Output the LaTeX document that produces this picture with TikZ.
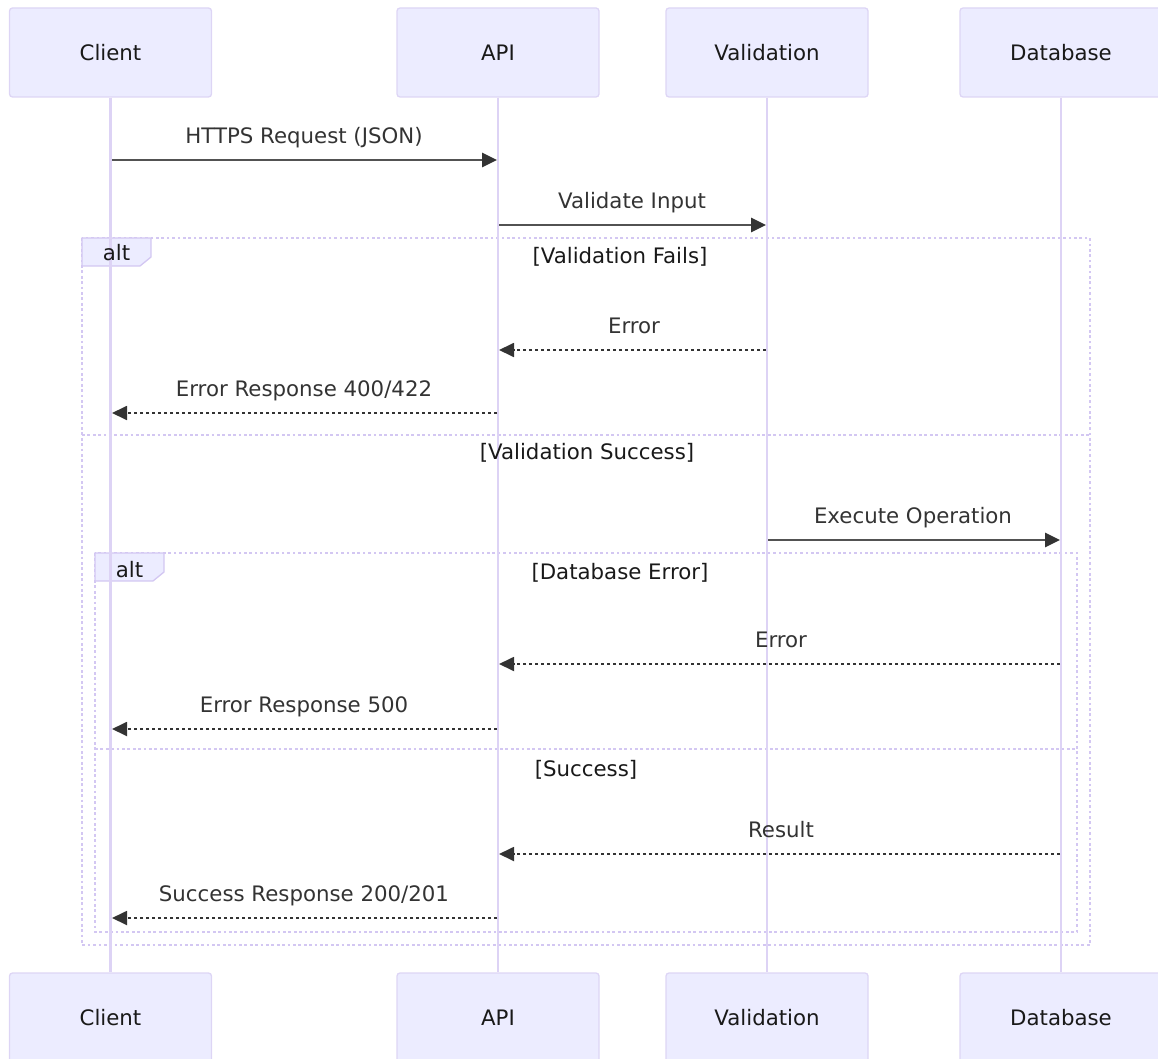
\documentclass[tikz,border=0pt]{standalone}
\usepackage{fontspec}
\setmainfont{DejaVu Sans}
\usetikzlibrary{arrows.meta}
\definecolor{actfill}{HTML}{ECECFF}
\definecolor{actline}{HTML}{DDD5F5}
\definecolor{lifec}{HTML}{DDD3F5}
\definecolor{loopc}{HTML}{D3C7F2}
\definecolor{msgc}{HTML}{333333}
\begin{document}
\begin{tikzpicture}[x=1pt,y=-1pt,
  txt/.style={font=\fontsize{21.3}{25}\selectfont},
  actor/.style={txt, draw=actline, fill=actfill, line width=1.3pt, rounded corners=3pt,
    minimum width=202pt, minimum height=89pt, inner sep=0pt, text=black!90},
  lifeline/.style={draw=lifec, line width=2.4pt},
  msg/.style={draw=msgc!85, line width=2.8pt, -{Triangle[length=15pt,width=14pt,color=msgc]}},
  reply/.style={draw=msgc, line width=1.8pt, dash pattern=on 3pt off 3pt, -{Triangle[length=15pt,width=14pt]}},
  lbl/.style={txt, anchor=base, inner sep=0pt, text=msgc},
  looplbl/.style={txt, anchor=base, inner sep=0pt, text=black!90},
  loopline/.style={draw=loopc, line width=2.6pt, dash pattern=on 2.7pt off 2.7pt},
  tab/.style={fill=actfill, draw=loopc, line width=1.3pt}
]
\useasboundingbox (0,0) rectangle (1158,1059);

% loop frames
\draw[loopline] (82,238) rectangle (1090,945);
\draw[loopline] (82,435) -- (1090,435);
\draw[tab] (82,238) -- (151,238) -- (151,257) -- (140,266) -- (82,266) -- cycle;
\draw[loopline] (95,553) rectangle (1077,932);
\draw[loopline] (95,749) -- (1077,749);
\draw[tab] (95,553) -- (164,553) -- (164,572) -- (153,581) -- (95,581) -- cycle;

% actors
\node[actor] (cT) at (110.5,52.5) {Client};
\node[actor] (aT) at (498,52.5) {API};
\node[actor] (vT) at (767,52.5) {Validation};
\node[actor] (dT) at (1061,52.5) {Database};
\node[actor] (cB) at (110.5,1017.5) {Client};
\node[actor] (aB) at (498,1017.5) {API};
\node[actor] (vB) at (767,1017.5) {Validation};
\node[actor] (dB) at (1061,1017.5) {Database};

% lifelines
\draw[lifeline] (cT.south) -- (cB.north);
\draw[lifeline] (aT.south) -- (aB.north);
\draw[lifeline] (vT.south) -- (vB.north);
\draw[lifeline] (dT.south) -- (dB.north);

% message end points
\coordinate (m1s) at (112,160);  \coordinate (m1e) at (497,160);
\coordinate (m2s) at (499,225);  \coordinate (m2e) at (766,225);
\coordinate (m3s) at (766,350);  \coordinate (m3e) at (499,350);
\coordinate (m4s) at (497,413);  \coordinate (m4e) at (112,413);
\coordinate (m5s) at (768,540);  \coordinate (m5e) at (1060,540);
\coordinate (m6s) at (1060,664); \coordinate (m6e) at (499,664);
\coordinate (m7s) at (497,729);  \coordinate (m7e) at (112,729);
\coordinate (m8s) at (1060,854); \coordinate (m8e) at (499,854);
\coordinate (m9s) at (497,918);  \coordinate (m9e) at (112,918);

\draw[msg] (m1s) -- (m1e);
\draw[msg] (m2s) -- (m2e);
\draw[reply] (m3s) -- (m3e);
\draw[reply] (m4s) -- (m4e);
\draw[msg] (m5s) -- (m5e);
\draw[reply] (m6s) -- (m6e);
\draw[reply] (m7s) -- (m7e);
\draw[reply] (m8s) -- (m8e);
\draw[reply] (m9s) -- (m9e);

% message labels
\node[lbl] (l1) at (304,143.5) {HTTPS Request (JSON)};
\node[lbl] (l2) at (632,208.5) {Validate Input};
\node[lbl] (l3) at (634,333.5) {Error};
\node[lbl] (l4) at (304,396.5) {Error Response 400/422};
\node[lbl] (l5) at (913,523.5) {Execute Operation};
\node[lbl] (l6) at (781,647.5) {Error};
\node[lbl] (l7) at (304,712.5) {Error Response 500};
\node[lbl] (l8) at (781,837.5) {Result};
\node[lbl] (l9) at (304,901.5) {Success Response 200/201};

% loop labels
\node[looplbl] (alt1) at (116.5,261) {alt};
\node[looplbl] (alt2) at (129.5,577) {alt};
\node[looplbl] (s1) at (620,263) {[Validation Fails]};
\node[looplbl] (s2) at (587,459) {[Validation Success]};
\node[looplbl] (s3) at (620,579) {[Database Error]};
\node[looplbl] (s4) at (586,776) {[Success]};
\end{tikzpicture}
\end{document}
